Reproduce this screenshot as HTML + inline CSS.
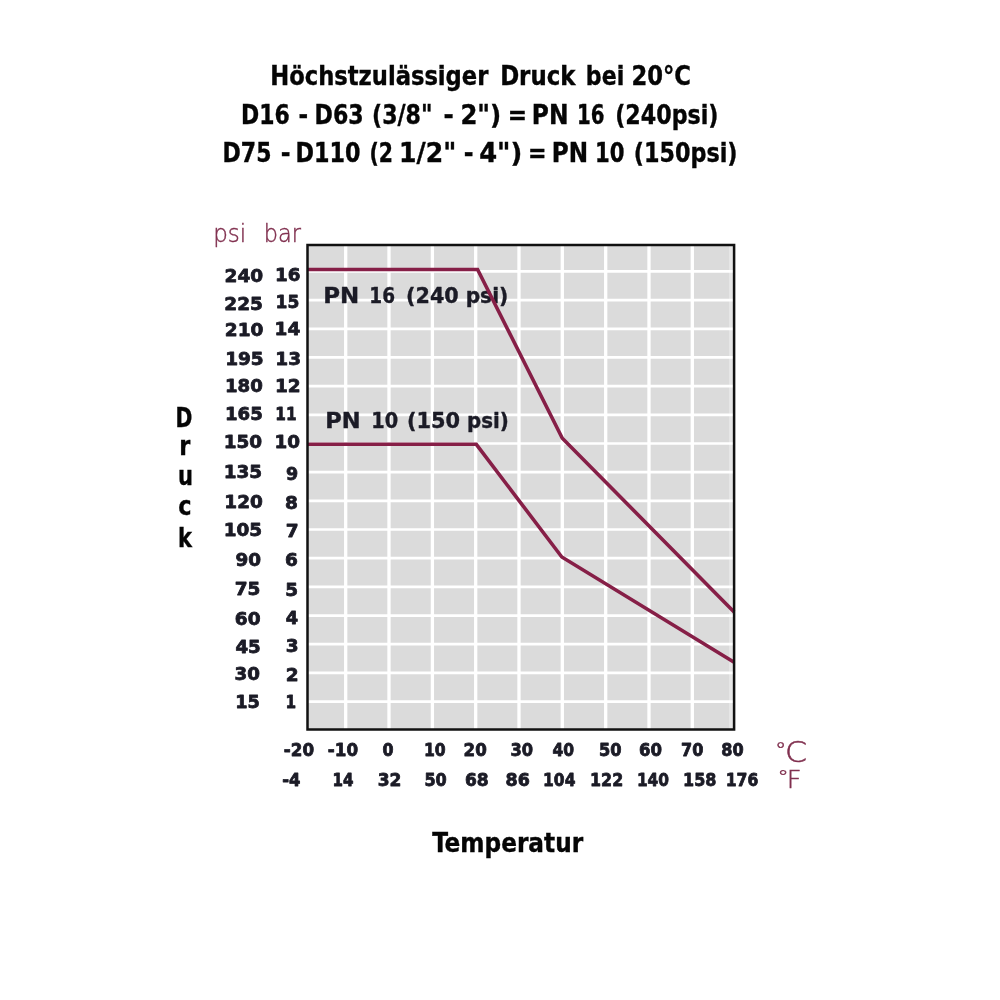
<!DOCTYPE html>
<html lang="de"><head><meta charset="utf-8"><title>Höchstzulässiger Druck</title>
<style>html,body{margin:0;padding:0;background:#fff}svg{display:block;filter:blur(0.45px)}text{white-space:pre}.n{font-family:"DejaVu Sans", "Liberation Sans", sans-serif;font-weight:bold;fill:#1b1b26;stroke:#1b1b26;stroke-width:0.8px;stroke-linejoin:round}.p{stroke-width:0.4px}.t{font-family:"DejaVu Sans Condensed", "DejaVu Sans", "Liberation Sans", sans-serif;font-weight:bold;fill:#050505;stroke:#050505;stroke-width:0.35px}.l{font-family:"DejaVu Sans Light", "DejaVu Sans", "Liberation Sans", sans-serif;font-weight:200;fill:#80304f;stroke:#80304f;stroke-width:0.45px}</style></head><body>
<svg width="1000" height="1000" viewBox="0 0 1000 1000">
<rect width="1000" height="1000" fill="#fff"/>
<text class="t" y="84.50" font-size="25.8"><tspan x="270.25" textLength="218.11" lengthAdjust="spacingAndGlyphs">Höchstzulässiger</tspan> <tspan x="500.13" textLength="75.31" lengthAdjust="spacingAndGlyphs">Druck</tspan> <tspan x="585.85" textLength="38.35" lengthAdjust="spacingAndGlyphs">bei</tspan> <tspan x="631.42" textLength="59.48" lengthAdjust="spacingAndGlyphs">20°C</tspan></text>
<text class="t" y="123.50" font-size="25.8"><tspan x="241.11" textLength="48.72" lengthAdjust="spacingAndGlyphs">D16</tspan> <tspan x="298.50" textLength="9.64" lengthAdjust="spacingAndGlyphs">-</tspan> <tspan x="314.60" textLength="48.99" lengthAdjust="spacingAndGlyphs">D63</tspan> <tspan x="372.05" textLength="60.44" lengthAdjust="spacingAndGlyphs">(3/8&quot;</tspan> <tspan x="443.44" textLength="10.24" lengthAdjust="spacingAndGlyphs">-</tspan> <tspan x="460.45" textLength="40.73" lengthAdjust="spacingAndGlyphs">2&quot;)</tspan> <tspan x="507.81" textLength="19.32" lengthAdjust="spacingAndGlyphs">=</tspan> <tspan x="531.79" textLength="36.64" lengthAdjust="spacingAndGlyphs">PN</tspan> <tspan x="577.00" textLength="27.48" lengthAdjust="spacingAndGlyphs">16</tspan> <tspan x="615.24" textLength="103.19" lengthAdjust="spacingAndGlyphs">(240psi)</tspan></text>
<text class="t" y="162.20" font-size="25.8"><tspan x="222.60" textLength="48.88" lengthAdjust="spacingAndGlyphs">D75</tspan> <tspan x="280.69" textLength="9.76" lengthAdjust="spacingAndGlyphs">-</tspan> <tspan x="295.48" textLength="64.96" lengthAdjust="spacingAndGlyphs">D110</tspan> <tspan x="369.42" textLength="23.49" lengthAdjust="spacingAndGlyphs">(2</tspan> <tspan x="399.14" textLength="57.12" lengthAdjust="spacingAndGlyphs">1/2&quot;</tspan> <tspan x="463.79" textLength="9.76" lengthAdjust="spacingAndGlyphs">-</tspan> <tspan x="479.19" textLength="43.09" lengthAdjust="spacingAndGlyphs">4&quot;)</tspan> <tspan x="528.09" textLength="18.54" lengthAdjust="spacingAndGlyphs">=</tspan> <tspan x="551.71" textLength="36.31" lengthAdjust="spacingAndGlyphs">PN</tspan> <tspan x="595.08" textLength="29.46" lengthAdjust="spacingAndGlyphs">10</tspan> <tspan x="633.74" textLength="103.80" lengthAdjust="spacingAndGlyphs">(150psi)</tspan></text>
<rect x="307.5" y="245.0" width="426.6" height="484.5" fill="#dbdbdb"/>
<path d="M345.7 245.0V729.5M389.0 245.0V729.5M432.4 245.0V729.5M475.7 245.0V729.5M519.0 245.0V729.5M562.3 245.0V729.5M605.7 245.0V729.5M649.0 245.0V729.5M692.3 245.0V729.5" stroke="#fff" stroke-width="3.3" fill="none"/>
<path d="M307.5 271.4H734.1M307.5 300.1H734.1M307.5 328.8H734.1M307.5 357.4H734.1M307.5 386.1H734.1M307.5 414.8H734.1M307.5 443.5H734.1M307.5 472.2H734.1M307.5 500.8H734.1M307.5 529.5H734.1M307.5 558.2H734.1M307.5 586.9H734.1M307.5 615.6H734.1M307.5 644.2H734.1M307.5 672.9H734.1M307.5 701.6H734.1" stroke="#fff" stroke-width="2.7" fill="none"/>
<rect x="729" y="245.0" width="3.6" height="484.5" fill="#fff" opacity="0.3"/>
<text class="n p" y="303.20" font-size="21.8"><tspan x="323.30" textLength="36.01" lengthAdjust="spacingAndGlyphs">PN</tspan> <tspan x="369.31" textLength="25.68" lengthAdjust="spacingAndGlyphs">16</tspan> <tspan x="406.05" textLength="52.71" lengthAdjust="spacingAndGlyphs">(240</tspan> <tspan x="465.67" textLength="42.62" lengthAdjust="spacingAndGlyphs">psi)</tspan></text>
<text class="n p" y="427.60" font-size="21.8"><tspan x="325.33" textLength="35.35" lengthAdjust="spacingAndGlyphs">PN</tspan> <tspan x="371.22" textLength="26.92" lengthAdjust="spacingAndGlyphs">10</tspan> <tspan x="407.04" textLength="53.12" lengthAdjust="spacingAndGlyphs">(150</tspan> <tspan x="467.09" textLength="41.78" lengthAdjust="spacingAndGlyphs">psi)</tspan></text>
<path d="M307.5 269.5H477.6L562.3 438.2L734.1 612" stroke="#861f47" stroke-width="3.6" fill="none" stroke-linejoin="miter"/>
<path d="M307.5 444.3H476.3L561.8 557L734.1 662.3" stroke="#861f47" stroke-width="3.6" fill="none" stroke-linejoin="miter"/>
<rect x="307.5" y="245.0" width="426.6" height="484.5" fill="none" stroke="#111" stroke-width="2.5"/>
<text class="l" y="241.80" font-size="25"><tspan x="213.15" textLength="33.06" lengthAdjust="spacingAndGlyphs">psi</tspan> <tspan x="263.71" textLength="37.15" lengthAdjust="spacingAndGlyphs">bar</tspan></text>
<text class="n" y="282.00" font-size="17.8"><tspan x="224.62" textLength="38.60" lengthAdjust="spacingAndGlyphs">240</tspan></text>
<text class="n" y="281.00" font-size="17.8"><tspan x="274.94" textLength="25.44" lengthAdjust="spacingAndGlyphs">16</tspan></text>
<text class="n" y="309.50" font-size="17.8"><tspan x="224.37" textLength="38.60" lengthAdjust="spacingAndGlyphs">225</tspan></text>
<text class="n" y="308.00" font-size="17.8"><tspan x="275.58" textLength="23.78" lengthAdjust="spacingAndGlyphs">15</tspan></text>
<text class="n" y="336.20" font-size="17.8"><tspan x="224.77" textLength="38.60" lengthAdjust="spacingAndGlyphs">210</tspan></text>
<text class="n" y="335.40" font-size="17.8"><tspan x="274.64" textLength="25.73" lengthAdjust="spacingAndGlyphs">14</tspan></text>
<text class="n" y="364.60" font-size="17.8"><tspan x="225.15" textLength="38.60" lengthAdjust="spacingAndGlyphs">195</tspan></text>
<text class="n" y="364.60" font-size="17.8"><tspan x="275.31" textLength="25.73" lengthAdjust="spacingAndGlyphs">13</tspan></text>
<text class="n" y="392.20" font-size="17.8"><tspan x="224.96" textLength="37.82" lengthAdjust="spacingAndGlyphs">180</tspan></text>
<text class="n" y="392.00" font-size="17.8"><tspan x="275.01" textLength="25.73" lengthAdjust="spacingAndGlyphs">12</tspan></text>
<text class="n" y="420.40" font-size="17.8"><tspan x="224.96" textLength="37.82" lengthAdjust="spacingAndGlyphs">165</tspan></text>
<text class="n" y="419.50" font-size="17.8"><tspan x="275.36" textLength="21.28" lengthAdjust="spacingAndGlyphs">11</tspan></text>
<text class="n" y="447.80" font-size="17.8"><tspan x="223.73" textLength="38.46" lengthAdjust="spacingAndGlyphs">150</tspan></text>
<text class="n" y="448.00" font-size="17.8"><tspan x="274.43" textLength="25.55" lengthAdjust="spacingAndGlyphs">10</tspan></text>
<text class="n" y="478.40" font-size="17.8"><tspan x="223.73" textLength="38.46" lengthAdjust="spacingAndGlyphs">135</tspan></text>
<text class="n" y="479.60" font-size="17.8"><tspan x="286.00" textLength="12.17" lengthAdjust="spacingAndGlyphs">9</tspan></text>
<text class="n" y="507.80" font-size="17.8"><tspan x="224.33" textLength="38.46" lengthAdjust="spacingAndGlyphs">120</tspan></text>
<text class="n" y="509.00" font-size="17.8"><tspan x="285.14" textLength="12.87" lengthAdjust="spacingAndGlyphs">8</tspan></text>
<text class="n" y="536.00" font-size="17.8"><tspan x="223.73" textLength="38.46" lengthAdjust="spacingAndGlyphs">105</tspan></text>
<text class="n" y="537.20" font-size="17.8"><tspan x="285.86" textLength="12.87" lengthAdjust="spacingAndGlyphs">7</tspan></text>
<text class="n" y="566.40" font-size="17.8"><tspan x="235.40" textLength="25.58" lengthAdjust="spacingAndGlyphs">90</tspan></text>
<text class="n" y="565.80" font-size="17.8"><tspan x="285.14" textLength="12.87" lengthAdjust="spacingAndGlyphs">6</tspan></text>
<text class="n" y="595.00" font-size="17.8"><tspan x="234.71" textLength="25.73" lengthAdjust="spacingAndGlyphs">75</tspan></text>
<text class="n" y="596.20" font-size="17.8"><tspan x="285.36" textLength="12.82" lengthAdjust="spacingAndGlyphs">5</tspan></text>
<text class="n" y="624.60" font-size="17.8"><tspan x="234.81" textLength="25.73" lengthAdjust="spacingAndGlyphs">60</tspan></text>
<text class="n" y="624.00" font-size="17.8"><tspan x="285.80" textLength="12.37" lengthAdjust="spacingAndGlyphs">4</tspan></text>
<text class="n" y="653.40" font-size="17.8"><tspan x="235.40" textLength="25.38" lengthAdjust="spacingAndGlyphs">45</tspan></text>
<text class="n" y="652.20" font-size="17.8"><tspan x="285.86" textLength="12.87" lengthAdjust="spacingAndGlyphs">3</tspan></text>
<text class="n" y="680.00" font-size="17.8"><tspan x="234.47" textLength="25.41" lengthAdjust="spacingAndGlyphs">30</tspan></text>
<text class="n" y="681.00" font-size="17.8"><tspan x="285.76" textLength="12.87" lengthAdjust="spacingAndGlyphs">2</tspan></text>
<text class="n" y="707.80" font-size="17.8"><tspan x="235.21" textLength="24.66" lengthAdjust="spacingAndGlyphs">15</tspan></text>
<text class="n" y="708.00" font-size="17.8"><tspan x="285.48" textLength="10.64" lengthAdjust="spacingAndGlyphs">1</tspan></text>
<text class="n" y="755.80" font-size="17.0"><tspan x="283.80" textLength="30.23" lengthAdjust="spacingAndGlyphs">-20</tspan> <tspan x="327.80" textLength="30.23" lengthAdjust="spacingAndGlyphs">-10</tspan> <tspan x="382.50" textLength="11.04" lengthAdjust="spacingAndGlyphs">0</tspan> <tspan x="423.88" textLength="21.76" lengthAdjust="spacingAndGlyphs">10</tspan> <tspan x="463.62" textLength="23.21" lengthAdjust="spacingAndGlyphs">20</tspan> <tspan x="510.45" textLength="22.59" lengthAdjust="spacingAndGlyphs">30</tspan> <tspan x="552.40" textLength="21.64" lengthAdjust="spacingAndGlyphs">40</tspan> <tspan x="599.05" textLength="22.59" lengthAdjust="spacingAndGlyphs">50</tspan> <tspan x="639.03" textLength="23.01" lengthAdjust="spacingAndGlyphs">60</tspan> <tspan x="681.05" textLength="22.38" lengthAdjust="spacingAndGlyphs">70</tspan> <tspan x="721.25" textLength="22.38" lengthAdjust="spacingAndGlyphs">80</tspan></text>
<text class="l" y="757.40" font-size="19"><tspan x="775.00" textLength="11.40" lengthAdjust="spacingAndGlyphs">°</tspan></text>
<text class="l" y="762.20" font-size="27.5"><tspan x="785.10" textLength="22.08" lengthAdjust="spacingAndGlyphs">C</tspan></text>
<text class="n" y="786.00" font-size="17.0"><tspan x="282.20" textLength="18.23" lengthAdjust="spacingAndGlyphs">-4</tspan> <tspan x="332.51" textLength="21.04" lengthAdjust="spacingAndGlyphs">14</tspan> <tspan x="377.70" textLength="23.73" lengthAdjust="spacingAndGlyphs">32</tspan> <tspan x="424.45" textLength="22.38" lengthAdjust="spacingAndGlyphs">50</tspan> <tspan x="465.00" textLength="23.73" lengthAdjust="spacingAndGlyphs">68</tspan> <tspan x="505.57" textLength="24.28" lengthAdjust="spacingAndGlyphs">86</tspan> <tspan x="543.09" textLength="32.36" lengthAdjust="spacingAndGlyphs">104</tspan> <tspan x="590.07" textLength="33.11" lengthAdjust="spacingAndGlyphs">122</tspan> <tspan x="636.89" textLength="32.15" lengthAdjust="spacingAndGlyphs">140</tspan> <tspan x="683.06" textLength="33.32" lengthAdjust="spacingAndGlyphs">158</tspan> <tspan x="725.68" textLength="32.68" lengthAdjust="spacingAndGlyphs">176</tspan></text>
<text class="l" y="783.00" font-size="17.5"><tspan x="777.64" textLength="11.20" lengthAdjust="spacingAndGlyphs">°</tspan></text>
<text class="l" y="787.60" font-size="24.7"><tspan x="786.68" textLength="14.77" lengthAdjust="spacingAndGlyphs">F</tspan></text>
<text class="t" y="426.50" font-size="25.8"><tspan x="175.45" textLength="16.89" lengthAdjust="spacingAndGlyphs">D</tspan></text>
<text class="t" y="455.00" font-size="25.8"><tspan x="179.24" textLength="11.03" lengthAdjust="spacingAndGlyphs">r</tspan></text>
<text class="t" y="484.80" font-size="25.8"><tspan x="177.99" textLength="14.99" lengthAdjust="spacingAndGlyphs">u</tspan></text>
<text class="t" y="514.80" font-size="25.8"><tspan x="178.23" textLength="13.30" lengthAdjust="spacingAndGlyphs">c</tspan></text>
<text class="t" y="547.30" font-size="25.8"><tspan x="177.99" textLength="13.99" lengthAdjust="spacingAndGlyphs">k</tspan></text>
<text class="t" y="851.50" font-size="25.8"><tspan x="432.20" textLength="150.95" lengthAdjust="spacingAndGlyphs">Temperatur</tspan></text>
</svg></body></html>
